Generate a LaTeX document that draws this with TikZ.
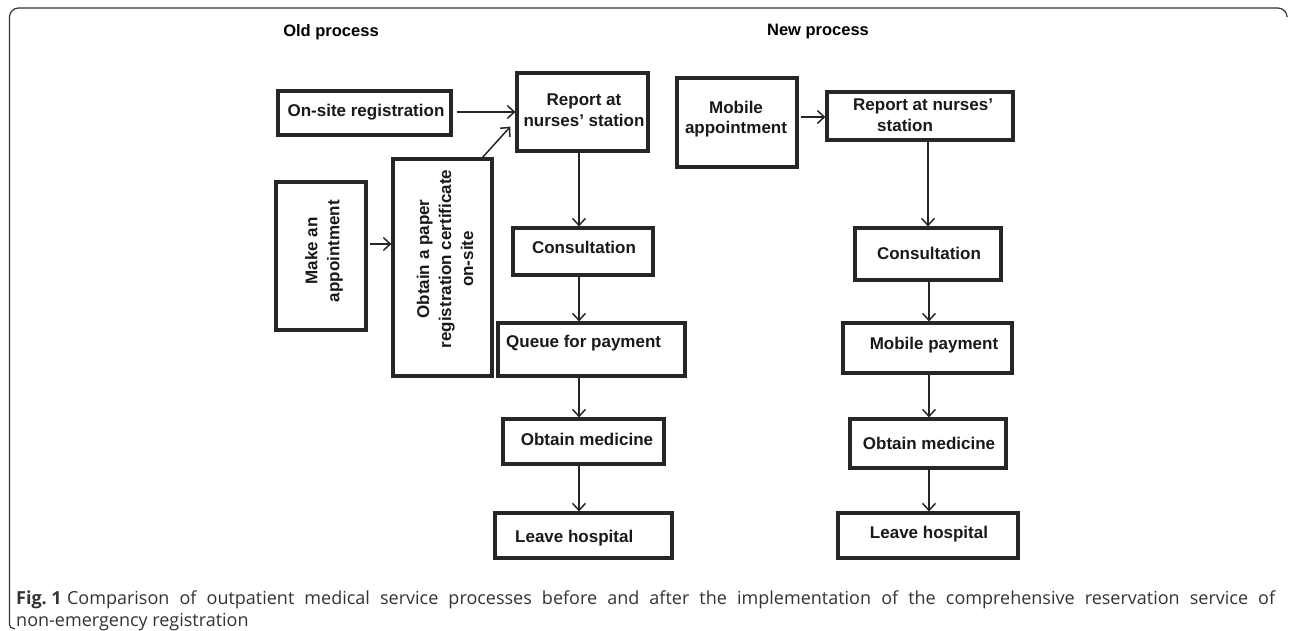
\documentclass[tikz,border=0pt]{standalone}
\usepackage{fontspec}
\setmainfont{Liberation Sans}
\newfontfamily\capfont{Open Sans}
\usetikzlibrary{arrows.meta}
\tikzset{
  bx/.style={draw=black!85, line width=3.2pt, inner sep=0pt},
  lbl/.style={font=\fontsize{17}{20.5}\selectfont\bfseries, align=center, inner sep=0pt, text=black!90},
  rlbl/.style={lbl, font=\fontsize{17}{22}\selectfont\bfseries, rotate=90},
  arr/.style={draw=black!85, line width=1.5pt, -{Straight Barb[length=7pt,width=13pt,line width=1.5pt]}},
  ttl/.style={font=\fontsize{16.5}{18}\selectfont\bfseries, inner sep=0pt},
  frm/.style={draw=black!80, line width=1.2pt},
  captxt/.style={font=\capfont\fontsize{18}{21}\selectfont, text=black!80, inner sep=0pt, anchor=base west}
}
\begin{document}
\begin{tikzpicture}[x=1pt,y=-1pt]
\useasboundingbox (0,0) rectangle (1292,630);
% frame
\draw[frm, rounded corners=4pt] (15,628.5) -- (9.5,628.5) -- (9.5,300);
\draw[frm, rounded corners=9pt] (9.5,300) -- (9.5,8) -- (1287,8) -- (1287,16);
% titles
\node[ttl] (t1) at (331,32) {Old process};
\node[ttl] (t2) at (818,32) {New process};
% old process boxes
\node[bx, minimum width=173, minimum height=44] (onsite) at (364.5,113) {};
\node[lbl] at (366,112) {On-site registration};
\node[bx, minimum width=131, minimum height=78] (rep1) at (582.5,112) {};
\node[lbl] at (584,110) {Report at\\nurses' station};
\node[bx, minimum width=90, minimum height=148] (make) at (321,256) {};
\node[rlbl] at (324,251) {Make an\\appointment};
\node[bx, minimum width=99, minimum height=217] (paper) at (442.5,267.5) {};
\node[rlbl] at (445,259) {Obtain a paper\\registration certificate\\on-site};
\node[bx, minimum width=140, minimum height=47] (cons1) at (583,251.5) {};
\node[lbl] at (584,247) {Consultation};
\node[bx, minimum width=187, minimum height=53] (queue) at (591.5,349.5) {};
\node[lbl, anchor=west] at (506,343) {Queue for payment};
\node[bx, minimum width=161, minimum height=45] (med1) at (583.5,441.5) {};
\node[lbl] at (587,439) {Obtain medicine};
\node[bx, minimum width=177, minimum height=45] (leave1) at (583.5,535.5) {};
\node[lbl, anchor=west] at (515,538) {Leave hospital};
% new process boxes
\node[bx, minimum width=120, minimum height=89] (mobile) at (737,122.5) {};
\node[lbl] at (736,119) {Mobile\\appointment};
\node[bx, minimum width=186, minimum height=48] (rep2) at (920,116) {};
\node[lbl, align=left, anchor=north west] at (853,99) {Report at nurses'\\\hspace*{24pt}station};
\node[bx, minimum width=146, minimum height=52] (cons2) at (928,254) {};
\node[lbl] at (929,253) {Consultation};
\node[bx, minimum width=169, minimum height=50] (mpay) at (927.5,348) {};
\node[lbl] at (934,345) {Mobile payment};
\node[bx, minimum width=156, minimum height=49] (med2) at (928,443.5) {};
\node[lbl] at (929,443) {Obtain medicine};
\node[bx, minimum width=180, minimum height=45] (leave2) at (928,535.5) {};
\node[lbl] at (929,534) {Leave hospital};
% old arrows
\draw[arr] (onsite.east) ++(4,-1) coordinate (a1) -- (a1 -| rep1.west);
\draw[arr] (make.east |- 0,244) ++(2,0) coordinate (a2) -- (a2 -| paper.west);
\draw[arr] ([xshift=-12,yshift=-1]paper.north east) -- ([xshift=-5,yshift=26]rep1.south west);
\draw[arr] ([xshift=-3.5]rep1.south) -- ([xshift=-3.5]rep1.south |- cons1.north);
\draw[arr] ([xshift=-4]cons1.south) -- ([xshift=-4]cons1.south |- queue.north);
\draw[arr] ([xshift=-4.5]med1.north |- queue.south) -- ([xshift=-4.5]med1.north);
\draw[arr] ([xshift=-4.5]med1.south) -- ([xshift=-4.5]med1.south |- leave1.north);
% new arrows
\draw[arr] (mobile.east |- 0,117) ++(2,0) coordinate (b1) -- (b1 -| rep2.west);
\draw[arr] ([xshift=8]rep2.south) -- ([xshift=8]rep2.south |- cons2.north);
\draw[arr] ([xshift=1]cons2.south) -- ([xshift=1]cons2.south |- mpay.north);
\draw[arr] ([xshift=1.5]mpay.south) -- ([xshift=1.5]mpay.south |- med2.north);
\draw[arr] ([xshift=1]med2.south) -- ([xshift=1]med2.south |- leave2.north);
% caption
\node[captxt] (c1) at (16,604) {\makebox[1259pt][s]{\textbf{Fig.\hspace{0.25em}1}\hspace{0.3em}Comparison of outpatient medical service processes before and after the implementation of the comprehensive reservation service of}};
\node[captxt] (c2) at (16,626) {non-emergency registration};
\end{tikzpicture}
\end{document}
